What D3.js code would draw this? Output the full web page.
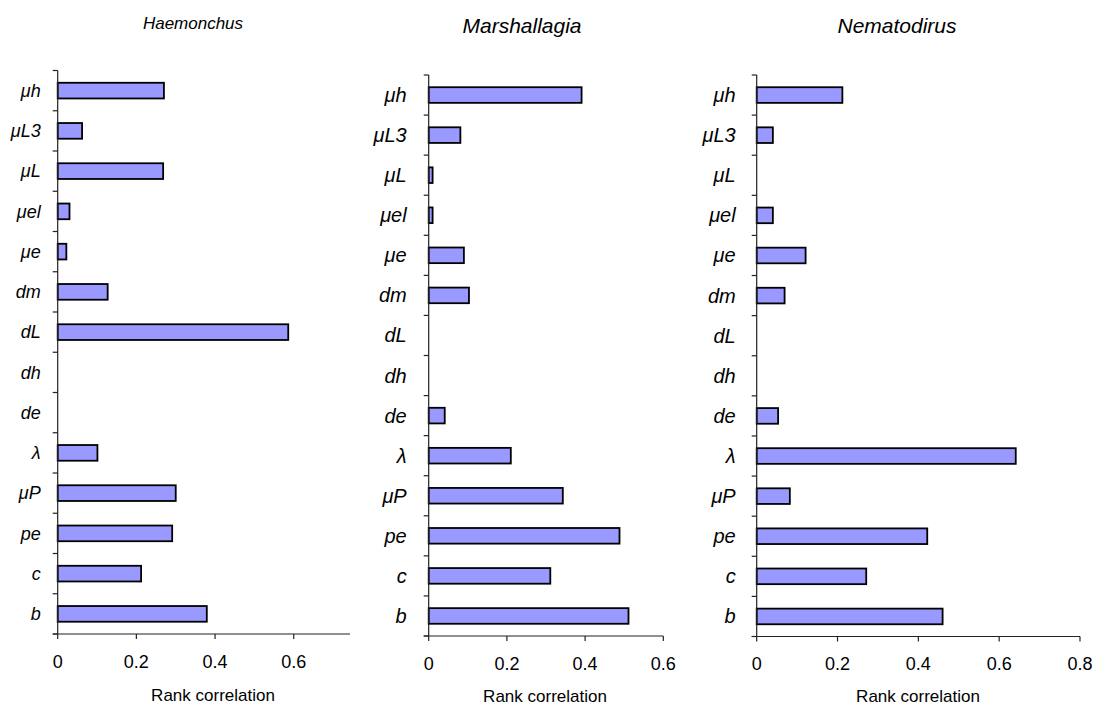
<!DOCTYPE html>
<html>
<head>
<meta charset="utf-8">
<script src="https://cdn.jsdelivr.net/npm/d3@7"></script>
<style>
  body { margin: 0; background: #fff; }
  svg { display: block; }
  text { font-family: "Liberation Sans", Arial, sans-serif; fill: #000; }
</style>
</head>
<body>
<svg id="chart" width="1097" height="709"></svg>
<script>
// Model parameters, listed top to bottom
const parameters = ["μh", "μL3", "μL", "μel", "μe", "dm", "dL", "dh", "de", "λ", "μP", "pe", "c", "b"];

// Rank correlation of each parameter, per parasite genus
const haemonchus   = [0.27, 0.062, 0.268, 0.03, 0.022, 0.127, 0.586, 0, 0, 0.101, 0.30, 0.291, 0.212, 0.379];
const marshallagia = [0.391, 0.081, 0.01, 0.01, 0.09, 0.103, 0, 0, 0.041, 0.21, 0.343, 0.488, 0.311, 0.511];
const nematodirus  = [0.212, 0.04, 0, 0.04, 0.121, 0.069, 0, 0, 0.053, 0.641, 0.082, 0.422, 0.271, 0.46];

const genera = ["Haemonchus", "Marshallagia", "Nematodirus"];
const ticksShort = [0, 0.2, 0.4, 0.6];
const ticksLong = [0, 0.2, 0.4, 0.6, 0.8];
const axisTitle = "Rank correlation";

// Panel geometry
const panels = [
  { title: genera[0], values: haemonchus, ticks: ticksShort, xMax: 0.743,
    left: 57.7, right: 350, top: 70.5, bottom: 634,
    labelSize: 18, labelGap: 17, tickSize: 18, titleSize: 17, titleX: 193, titleY: 29,
    tickY: 668, axisTitleX: 213, axisTitleY: 701 },
  { title: genera[1], values: marshallagia, ticks: ticksShort, xMax: 0.6,
    left: 428.7, right: 663.3, top: 75, bottom: 636,
    labelSize: 20, labelGap: 22, tickSize: 18, titleSize: 21, titleX: 522, titleY: 33,
    tickY: 670, axisTitleX: 545, axisTitleY: 702 },
  { title: genera[2], values: nematodirus, ticks: ticksLong, xMax: 0.8,
    left: 756.7, right: 1080, top: 75, bottom: 636.5,
    labelSize: 20, labelGap: 21, tickSize: 18, titleSize: 21, titleX: 897, titleY: 33,
    tickY: 670, axisTitleX: 918, axisTitleY: 702 }
];

const svg = d3.select("#chart");

panels.forEach(p => {
  const g = svg.append("g");
  const data = parameters.map((name, i) => ({ name, value: p.values[i] }));

  const x = d3.scaleLinear().domain([0, p.xMax]).range([p.left, p.right]);
  const y = d3.scaleBand().domain(parameters).range([p.top, p.bottom])
    .paddingInner(0.61).paddingOuter(0.305);

  // Bars
  g.selectAll("rect.bar")
    .data(data.filter(d => d.value > 0))
    .join("rect")
    .attr("class", "bar")
    .attr("x", x(0))
    .attr("y", d => y(d.name))
    .attr("width", d => x(d.value) - x(0))
    .attr("height", y.bandwidth())
    .attr("fill", "#9999ff")
    .attr("stroke", "#000")
    .attr("stroke-width", 1.8);

  // Vertical axis with ticks between categories
  const step = y.step();
  const boundaries = d3.range(parameters.length + 1).map(i => p.top + i * step);
  g.append("line")
    .attr("x1", x(0)).attr("x2", x(0))
    .attr("y1", p.top).attr("y2", p.bottom)
    .attr("stroke", "#222").attr("stroke-width", 1.2);
  g.selectAll("line.ytick")
    .data(boundaries)
    .join("line")
    .attr("class", "ytick")
    .attr("x1", x(0) - 5).attr("x2", x(0))
    .attr("y1", d => d).attr("y2", d => d)
    .attr("stroke", "#222").attr("stroke-width", 1.2);

  // Category labels
  g.selectAll("text.ylab")
    .data(data)
    .join("text")
    .attr("class", "ylab")
    .attr("x", x(0) - p.labelGap)
    .attr("y", d => y(d.name) + y.bandwidth() / 2)
    .attr("dy", "0.35em")
    .attr("text-anchor", "end")
    .style("font-style", "italic")
    .style("font-size", p.labelSize + "px")
    .text(d => d.name);

  // Horizontal axis
  g.append("line")
    .attr("x1", x(0) - 5).attr("x2", p.right)
    .attr("y1", p.bottom).attr("y2", p.bottom)
    .attr("stroke", "#222").attr("stroke-width", 1.2);
  g.selectAll("line.xtick")
    .data(p.ticks)
    .join("line")
    .attr("class", "xtick")
    .attr("x1", d => x(d)).attr("x2", d => x(d))
    .attr("y1", p.bottom).attr("y2", p.bottom + 5)
    .attr("stroke", "#222").attr("stroke-width", 1.2);
  g.selectAll("text.xlab")
    .data(p.ticks)
    .join("text")
    .attr("class", "xlab")
    .attr("x", d => x(d))
    .attr("y", p.tickY)
    .attr("text-anchor", "middle")
    .style("font-size", p.tickSize + "px")
    .text(d => d === 0 ? "0" : d3.format(".1f")(d));

  // Axis title
  g.append("text")
    .attr("x", p.axisTitleX)
    .attr("y", p.axisTitleY)
    .attr("text-anchor", "middle")
    .style("font-size", "17px")
    .text(axisTitle);

  // Panel title
  g.append("text")
    .attr("x", p.titleX)
    .attr("y", p.titleY)
    .attr("text-anchor", "middle")
    .style("font-style", "italic")
    .style("font-size", p.titleSize + "px")
    .text(p.title);
});
</script>
</body>
</html>
